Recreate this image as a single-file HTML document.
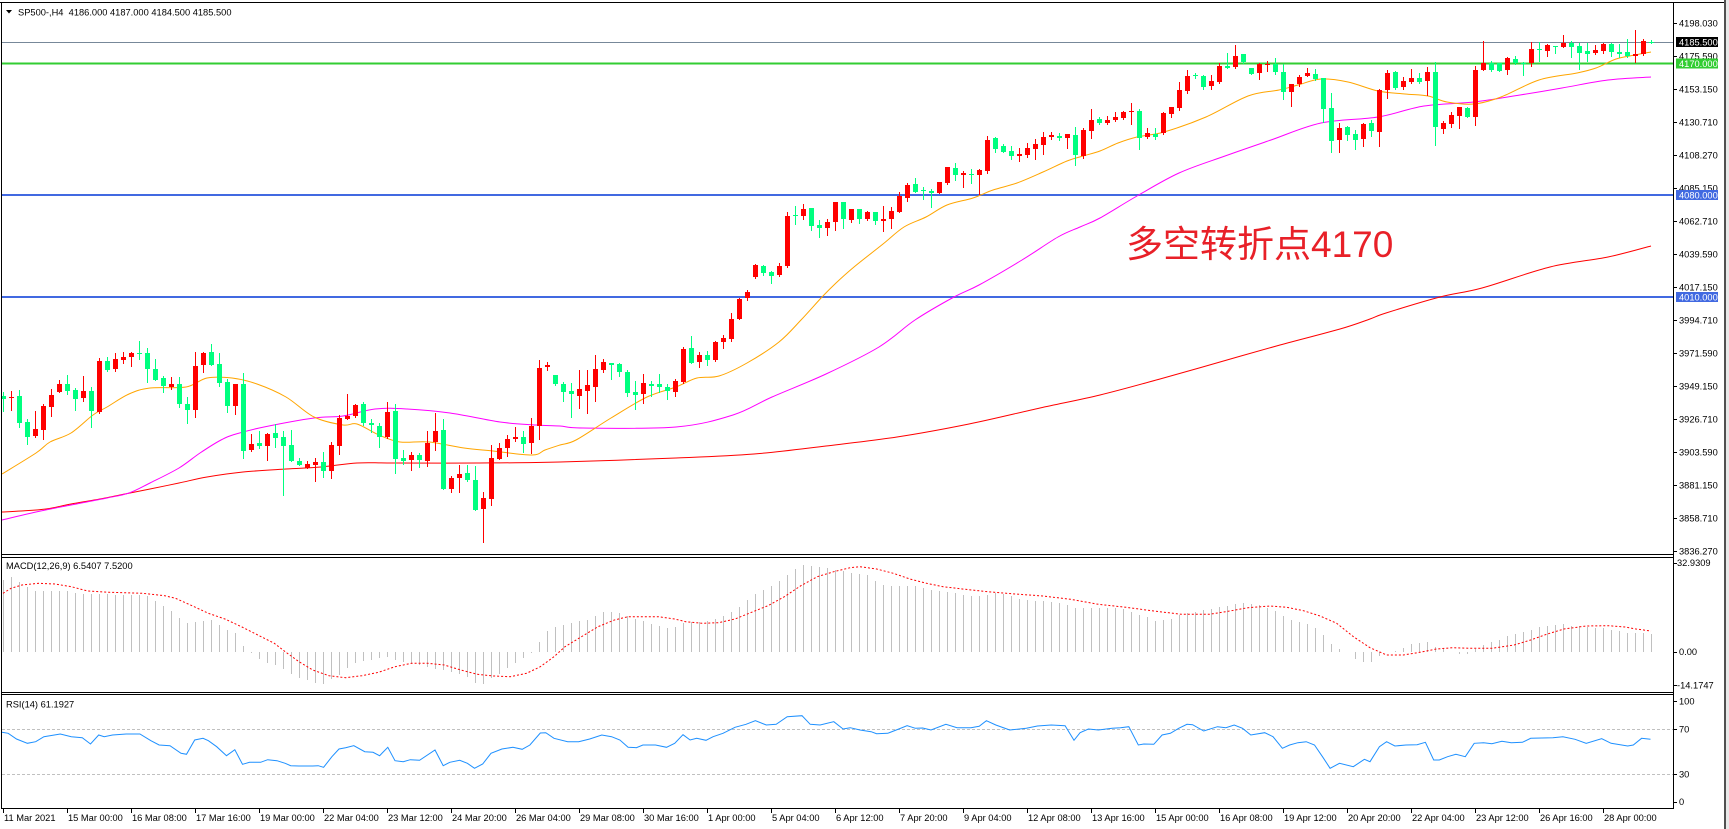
<!DOCTYPE html>
<html><head><meta charset="utf-8">
<style>
html,body{margin:0;padding:0;background:#fff;}
body{width:1729px;height:829px;overflow:hidden;position:relative;}
svg{position:absolute;left:0;top:0;font-family:"Liberation Sans","Noto Sans CJK SC",sans-serif;}
.t{font-size:9.3px;fill:#000;}
.w{font-size:9.3px;fill:#fff;}
</style></head><body>
<svg id="s" width="1729" height="829" viewBox="0 0 1729 829" xmlns="http://www.w3.org/2000/svg">
<rect x="0" y="0" width="1729" height="829" fill="#fff"/>
<g id="lines"></g>
<g id="g"></g>
<g shape-rendering="crispEdges" fill="#000">
<rect x="0" y="2" width="1725" height="1"/>
<rect x="1" y="2" width="1" height="807"/>
<rect x="1673" y="2" width="1" height="807"/>
<rect x="1" y="554" width="1672" height="1"/>
<rect x="1" y="557" width="1672" height="1"/>
<rect x="1" y="692" width="1672" height="1"/>
<rect x="1" y="694" width="1672" height="1"/>
<rect x="1" y="808" width="1673" height="1"/>
<rect x="1724" y="0" width="2" height="829" fill="#505050"/>
<rect x="1726" y="0" width="3" height="829" fill="#e8e8e8"/>
</g>
<g id="ticks" shape-rendering="crispEdges" fill="#000"></g>
<polygon points="6,10 12,10 9,13.5" fill="#000"/>
<text class="t" x="18" y="15.5">SP500-,H4&#160;&#160;4186.000 4187.000 4184.500 4185.500</text>
<text class="t" x="6" y="569">MACD(12,26,9) 6.5407 7.5200</text>
<text class="t" x="6" y="707.5">RSI(14) 61.1927</text>
<g class="t">
<text x="1679" y="26.7">4198.030</text>
<text x="1679" y="59.7">4175.590</text>
<text x="1679" y="92.7">4153.150</text>
<text x="1679" y="125.7">4130.710</text>
<text x="1679" y="158.7">4108.270</text>
<text x="1679" y="191.7">4085.150</text>
<text x="1679" y="224.7">4062.710</text>
<text x="1679" y="257.7">4039.590</text>
<text x="1679" y="290.7">4017.150</text>
<text x="1679" y="323.7">3994.710</text>
<text x="1679" y="356.7">3971.590</text>
<text x="1679" y="389.7">3949.150</text>
<text x="1679" y="422.7">3926.710</text>
<text x="1679" y="455.7">3903.590</text>
<text x="1679" y="488.7">3881.150</text>
<text x="1679" y="521.7">3858.710</text>
<text x="1679" y="554.7">3836.270</text>
<text x="1677" y="566">32.9309</text>
<text x="1679" y="655">0.00</text>
<text x="1677" y="688.3">-14.1747</text>
<text x="1679" y="704.3">100</text>
<text x="1679" y="732.7">70</text>
<text x="1679" y="777.7">30</text>
<text x="1679" y="805">0</text>
</g>
<g shape-rendering="crispEdges">
<rect x="1676" y="37" width="42" height="10" fill="#000"/>
<rect x="1676" y="58.5" width="42" height="10" fill="#32cd32"/>
<rect x="1676" y="190" width="42" height="10" fill="#4169e1"/>
<rect x="1676" y="292" width="42" height="10" fill="#4169e1"/>
</g>
<text class="w" x="1679" y="45.7">4185.500</text>
<text class="w" x="1679" y="67">4170.000</text>
<text class="w" x="1679" y="198.5">4080.000</text>
<text class="w" x="1679" y="300.5">4010.000</text>
<g class="t">
<text x="4" y="821">11 Mar 2021</text>
<text x="68" y="821">15 Mar 00:00</text>
<text x="132" y="821">16 Mar 08:00</text>
<text x="196" y="821">17 Mar 16:00</text>
<text x="260" y="821">19 Mar 00:00</text>
<text x="324" y="821">22 Mar 04:00</text>
<text x="388" y="821">23 Mar 12:00</text>
<text x="452" y="821">24 Mar 20:00</text>
<text x="516" y="821">26 Mar 04:00</text>
<text x="580" y="821">29 Mar 08:00</text>
<text x="644" y="821">30 Mar 16:00</text>
<text x="708" y="821">1 Apr 00:00</text>
<text x="772" y="821">5 Apr 04:00</text>
<text x="836" y="821">6 Apr 12:00</text>
<text x="900" y="821">7 Apr 20:00</text>
<text x="964" y="821">9 Apr 04:00</text>
<text x="1028" y="821">12 Apr 08:00</text>
<text x="1092" y="821">13 Apr 16:00</text>
<text x="1156" y="821">15 Apr 00:00</text>
<text x="1220" y="821">16 Apr 08:00</text>
<text x="1284" y="821">19 Apr 12:00</text>
<text x="1348" y="821">20 Apr 20:00</text>
<text x="1412" y="821">22 Apr 04:00</text>
<text x="1476" y="821">23 Apr 12:00</text>
<text x="1540" y="821">26 Apr 16:00</text>
<text x="1604" y="821">28 Apr 00:00</text>
</g>
<text x="1126" y="257" font-size="37" fill="rgb(232,32,40)" font-family="'Liberation Sans','Noto Sans CJK SC',sans-serif">多空转折点4170</text>
</svg>
<script>
(function(){
var NS="http://www.w3.org/2000/svg";
var g=document.getElementById('g'), L=document.getElementById('lines'), T=document.getElementById('ticks');
function el(p,tag,a){var e=document.createElementNS(NS,tag);for(var k in a)e.setAttribute(k,a[k]);p.appendChild(e);return e;}
function interp(P,x){if(x<=P[0][0])return P[0][1];for(var k=1;k<P.length;k++){if(x<=P[k][0]){var a=P[k-1],b=P[k];return a[1]+(b[1]-a[1])*(x-a[0])/(b[0]-a[0]);}}return P[P.length-1][1];}
function poly(p,P,c,ex){var a={points:P.map(function(q){return q[0]+','+q[1];}).join(' '),fill:'none',stroke:c,'stroke-width':1};if(ex)for(var k in ex)a[k]=ex[k];el(p,'polyline',a);}
function smooth(p,P,c){
  var d='M'+P[0][0]+','+P[0][1];
  for(var i=0;i<P.length-1;i++){
    var p0=P[Math.max(0,i-1)],p1=P[i],p2=P[i+1],p3=P[Math.min(P.length-1,i+2)];
    var c1x=p1[0]+(p2[0]-p0[0])/6,c1y=p1[1]+(p2[1]-p0[1])/6;
    var c2x=p2[0]-(p3[0]-p1[0])/6,c2y=p2[1]-(p3[1]-p1[1])/6;
    d+=' C'+c1x.toFixed(2)+','+c1y.toFixed(2)+' '+c2x.toFixed(2)+','+c2y.toFixed(2)+' '+p2[0]+','+p2[1];
  }
  el(p,'path',{d:d,fill:'none',stroke:c,'stroke-width':1});
}
el(L,'rect',{x:2,y:42,width:1671,height:1,fill:'#778899','shape-rendering':'crispEdges'});
el(L,'rect',{x:2,y:62.5,width:1671,height:2,fill:'#32cd32','shape-rendering':'crispEdges'});
el(L,'rect',{x:2,y:194,width:1671,height:2,fill:'#4169e1','shape-rendering':'crispEdges'});
el(L,'rect',{x:2,y:296,width:1671,height:2,fill:'#4169e1','shape-rendering':'crispEdges'});
el(L,'line',{x1:2,y1:729.5,x2:1673,y2:729.5,stroke:'#c0c0c0','stroke-dasharray':'3 2','stroke-width':1});
el(L,'line',{x1:2,y1:774.5,x2:1673,y2:774.5,stroke:'#c0c0c0','stroke-dasharray':'3 2','stroke-width':1});
for(var k=0;k<17;k++){el(T,'rect',{x:1673,y:23+33*k,width:4,height:1});}
[563,651.7,685,701,729.3,774.3,802].forEach(function(y){el(T,'rect',{x:1673,y:Math.round(y),width:4,height:1});});
for(var k=0;k<26;k++){el(T,'rect',{x:3+64*k,y:808,width:1,height:5});}

var O=[[2,474],[36,453],[50,442],[71,433],[93,415],[107,407],[129,394],[150,388],[186,387],[207,378],[232,378],[257,384],[286,397],[314,417],[343,425],[357,424],[379,435],[400,442],[429,442],[464,448],[493,451],[532,455],[545,450],[560,445],[576,440],[611,418],[647,397],[676,387],[697,378],[719,376],[747,363],[779,342],[801,320],[822,297],[836,283],[854,267],[883,244],[904,227],[926,217],[947,205],[973,198],[993,190],[1017,183],[1043,172],[1067,161],[1083,156],[1100,151],[1118,143],[1137,137],[1164,132],[1206,117],[1248,96],[1279,90],[1298,85],[1321,79],[1348,82],[1378,91],[1405,94],[1428,96],[1447,102],[1474,104],[1501,97],[1539,80],[1577,73],[1596,68],[1616,59],[1635,55],[1651,52]];
var M=[[2,520],[36,512],[71,505],[107,498],[129,493],[150,483],[179,468],[200,453],[221,440],[236,434],[264,427],[314,418],[343,416],[375,409],[407,409],[450,413],[500,422],[536,425],[560,426],[583,428],[676,427],[733,415],[772,397],[826,374],[879,347],[915,320],[954,297],[979,285],[1022,260],[1058,237],[1080,227],[1100,218],[1137,196],[1179,173],[1225,156],[1271,140],[1321,123],[1378,117],[1424,106],[1474,102],[1520,95],[1562,88],[1608,80],[1651,77]];
var R=[[2,512],[21,511],[46,509],[71,504],[100,499],[125,494],[150,489],[179,483],[207,477],[243,472],[286,469],[321,467],[357,463],[393,463],[479,463],[560,462],[676,458],[754,454],[826,446],[897,437],[969,424],[1040,408],[1100,395],[1160,379],[1220,362],[1280,345],[1340,329],[1370,319],[1386,313],[1440,297],[1482,288],[1550,267],[1608,257],[1651,246]];
smooth(g,R,'#ff0000');
smooth(g,M,'#ff00ff');
smooth(g,O,'#ffa500');

var C=[[0,396,398.7,391.7,410.7],[1,396.7,398,391,410],[0,396,422.7,390,427.3],[0,422,436.7,419.3,444],[1,429,436,410.7,437.3],[1,406,430,404,438.7],[1,395,406.7,389,416],[1,384.3,391.7,380,391.7],[0,384,391,375,394],[0,390,399,388.3,410],
[1,391,398,376,400.7],[0,391,410.7,386.7,426.7],[1,361,412,357.7,413.3],[0,361,370,357.3,371],[1,359.3,369,353,370.7],[1,357,360,351.7,362.7],[1,353,356.7,351.7,365.7],[0,352.7,353.7,341,359],[0,353,368.7,348.3,382],[0,369,380,359,380],
[0,378,386,375.7,391.7],[1,384,386.7,377.3,389],[0,384,403.7,377.3,407.3],[0,403.7,410,396.7,422.7],[1,365.7,410,351.7,416.7],[1,353,365,351.7,371.7],[0,352,365,344,365],[0,364,382.7,352.7,386],[0,381.7,406,379,412],[1,384,405.7,384,414],
[0,384,450.7,373.3,457.7],[1,444,450,434,451],[0,443,445.7,431,447.7],[1,434,445.7,433.3,459.7],[0,433.3,437.7,424.3,446.7],[0,437,445.7,431,495],[0,445,460.7,430,460.7],[0,461,464.7,457.7,464.7],[1,464.3,468.3,461.3,468.3],[1,462.3,464.7,458,480.7],
[0,462.3,470.7,452.3,476.7],[1,445,470.7,442,477.7],[1,418,445.7,415,453.7],[1,415.7,418.7,394,418.7],[1,405,416,404,416.7],[0,404,423,402,425],[0,423,425.3,419,432.3],[0,426,436.7,423.3,446.7],[1,412,436.7,402,437.7],[0,411,458.7,404,472.7],
[0,457.7,460.7,450,464.3],[1,455,460,451.7,470],[0,455,460,452.7,466.7],[1,442.7,460.7,431,465.7],[1,431,442,412.7,450],[0,430,489,419,489],[1,478,489,476,491.7],[1,474,478.3,465,491.7],[0,473.3,480,465.3,480.7],[0,480.3,510,466,510],
[1,498.3,509,492,541.7],[1,458,499,445.3,505],[1,448,458.7,442.7,458.7],[1,439,448,435.3,456],[1,437,438.7,427.3,440.7],[0,437,443.7,431,452.3],[1,426,443,418,452.7],[1,368.3,425.7,360.3,439],[1,365,366.7,362.3,370],[0,375,384,375,385],
[0,384,391.7,382.3,400.7],[0,391,394.3,383.3,416.7],[1,389,395.7,370,407.7],[1,385,390.7,370,412.7],[1,369,386.7,355,400.7],[1,362.3,370,359,371.7],[0,363.3,364.7,363.3,379],[0,364,371.7,363.3,376],[0,372,392.7,370,395.7],[0,392.3,395,381,409],
[1,383.3,394.3,374,403.3],[0,384,385.7,381,395.7],[0,384.3,387.3,374,391.7],[0,387.3,390.7,384,398.7],[1,380.7,391.7,379.3,395.7],[1,349,382.3,346.7,383.3],[0,348.3,363.3,336,363.3],[1,355.3,362.3,352,366.7],[0,355.3,360,351.3,365],[1,342.3,360,341,361.3],
[1,338.3,342,335,347.7],[1,319.3,339.3,313,341],[1,299.3,319.3,298.3,319.3],[1,292.3,298.3,290,300],[1,265,276.7,264,277.7],[0,266,272.7,265.3,275],[0,272,275.7,270.7,282.7],[1,266,275,263.3,275.7],[1,216,265.7,212,267.3],[0,214.5,215.5,206,224],
[1,209,216,204,218.7],[0,208,225.7,208,230],[0,225.3,227.7,220,236.7],[1,221.7,227.7,219.3,235],[1,202,221.7,202,230],[0,202,219,202,227.7],[1,209.3,220,209.3,221.7],[0,209.3,219,209.3,222.7],[1,211.7,219,210.7,220],[0,212,221,212,224],
[1,219,220.7,206,231],[1,211,219,206.7,227.7],[1,195.7,211.7,191.7,211.7],[1,184.7,197.7,183.3,201],[0,184,191.7,178,191.7],[0,189.5,190.5,187,198.7],[0,191.3,192.7,189,206.7],[1,182,192.7,182,193.3],[1,167,182.7,167,184.3],[0,168,175,163,180],
[1,173,175,171,187],[0,173.5,174.5,169,183],[1,170,175,169,194],[1,140,171,136,173],[0,138,149,137,152],[0,146,152,144,152],[0,151,156,146,159],[1,154,156,148,161],[1,148,155,143,157],[1,144,149,139,159],
[1,137,145,132,154],[1,135,137,132,139],[0,136,138,133,140],[1,134,138,134,148],[0,135,155,127,165],[1,129.5,156,128.3,158],[1,120,131,109,137.7],[0,119.3,123.3,117.3,124],[1,120,123.3,116,124],[1,117.3,120,112.3,120.7],
[1,111.7,118.3,110.7,119.3],[1,110.7,112.3,103.3,124],[0,110.7,138.3,109.3,148.7],[1,133.3,137.3,128.3,138.3],[0,134,136.7,127.7,139],[1,113.3,133.3,112.3,134.3],[1,107.3,114,106.7,116.7],[1,90,108.3,81.7,110],[1,76,91,70,92.7],[0,74.5,75.5,72.7,78.3],
[0,76,87.3,75,89.3],[1,80.7,86,75,89],[1,66,81.7,63.3,82.7],[0,66,67.7,53.3,67.7],[1,56,66.7,45,67.7],[0,54.3,62.3,54.3,63.3],[0,67.7,73.7,67.7,74.3],[1,64.3,73.3,62.7,78.7],[1,64.3,65.3,61,70.7],[0,64.3,72.3,58.3,74.3],
[0,72.3,91.7,64.3,99.3],[1,84,91.7,84,106],[1,76.7,84.3,75,85.7],[1,72.7,76,68.3,76],[0,74,79,69.3,80],[0,78.3,109,78.3,121.7],[0,108.3,140.7,92.7,151.7],[1,127.7,140,123.3,151.7],[0,127.3,135,126,140],[0,134,140,130,149],
[1,124,139,123.3,146],[0,123.3,131,120,136],[1,90,131.7,89.3,146],[1,72.7,90,70,98.3],[0,71.7,88.3,71,89],[1,81,86.7,76.7,89.3],[1,78.3,81.7,69.3,83.3],[0,78.3,81.7,72.7,82.7],[1,72,81,66.7,95],[0,71.7,126.7,62,145],
[1,122.7,128.7,120.7,132.7],[1,115,124,112.3,126.7],[1,107.3,116,107.3,128.3],[0,107.7,116.7,107.3,117.3],[1,70,116.7,66,125],[1,63.3,70,41,70],[0,63.3,70,61,70.7],[0,63.3,70.7,63.3,70.7],[1,58,70,56.7,74],[0,59,63.3,56,64],
[0,62.8,63.8,62,75],[1,49,62.7,42.3,66],[0,48.5,49.5,42.3,60.7],[1,45,50.7,44,56],[0,46,47.3,46,52.7],[1,42.7,47.3,35,47.3],[0,42.7,46.7,40.7,56.7],[0,46,52.7,42.7,69.3],[0,51,54.3,43.3,60.7],[1,50,53.3,45,54],
[1,44.3,50.7,43.3,52.7],[0,44,51.7,43.3,56],[0,51.7,54.3,44,56.7],[0,52.3,56,39.3,57.3],[1,54,56,30,61.7],[1,41,54.3,39.3,55],[0,41.5,42.5,40,42.7]];
var cg=el(g,'g',{'shape-rendering':'crispEdges'});
C.forEach(function(c,i){
  var X=3+8*i, col=c[0]?'#ff0000':'#00ff7f';
  var wt=Math.round(c[3]), wb=Math.round(c[4]);
  el(cg,'rect',{x:X,y:wt,width:1,height:Math.max(1,wb-wt+1),fill:col});
  var bt=Math.round(c[1]), bb=Math.round(c[2]);
  el(cg,'rect',{x:X-2,y:bt,width:5,height:Math.max(1,bb-bt),fill:col});
});

var H=[[3,580],[10,576.7],[18,581.7],[26,586.7],[34,591],[66,591],[82,594],[145,595],[154,600],[162,605],[170,610],[178,616.7],[186,623.3],[203,620.7],[211,620],[218,624],[226,630],[234,631.7],[242,645],[250,651.7],[258,658.3],[266,662.3],[274,665],[282,668.3],[290,673.3],[298,677.7],[306,680],[314,682.7],[322,684.3],[330,680],[338,675.7],[346,669],[354,663.3],[370,660],[387,656.7],[394,660],[410,663.3],[426,666.7],[442,670],[466,675.7],[474,683.3],[482,684.3],[490,678.3],[498,675],[506,668.3],[514,663.3],[522,659],[530,654.3],[538,643.3],[546,631.7],[554,627.7],[570,623.3],[586,620],[594,616.7],[602,612.3],[618,612.3],[634,618.3],[650,623.3],[666,627.7],[674,627.7],[682,623.3],[706,621],[722,616.7],[738,608.3],[754,594.3],[770,586.7],[786,575.7],[794,570],[802,565],[826,567.7],[842,571],[850,573],[866.7,575],[874,580],[882,584.3],[890,586],[914,586],[930,590],[946,591.7],[970,595.7],[978,596.7],[994,593.3],[1010,595],[1018,599.3],[1050,601.7],[1066,604.3],[1074,608.3],[1122,608.3],[1130,611.7],[1146,616.7],[1154,620.7],[1170,619],[1178,615.7],[1194,611.7],[1218,607.3],[1234,604.3],[1242,603.3],[1258,604.3],[1274,610],[1290,620],[1306,623.3],[1314,626.7],[1322,633.3],[1330,643.3],[1338,649],[1346,651],[1354,659],[1362,661.7],[1370,663.3],[1378,656.7],[1386,652],[1394,651.7],[1402,648],[1410,644.3],[1418,643.3],[1426,641],[1434,646.7],[1442,648.3],[1450,651.7],[1458,653.3],[1466,655],[1474,650],[1482,645.7],[1490,642.3],[1498,640],[1506,636],[1514,634],[1522,632.7],[1530,630],[1538,627.7],[1546,625.7],[1554,625],[1562,624.3],[1570,625.7],[1586,626.7],[1602,628.3],[1618,631],[1626,633.3],[1642,633.3],[1651,634]];
var hg=el(g,'g',{'shape-rendering':'crispEdges',fill:'#c0c0c0'});
var Z=652;
for(var i=0;i<207;i++){var X=3+8*i;var y=Math.round(interp(H,X));if(Math.abs(y-Z)<1)continue;el(hg,'rect',{x:X,y:Math.min(y,Z),width:1,height:Math.abs(y-Z)});}
var S=[[3,593.3],[11,588.3],[22,585],[38.4,583.3],[54.9,584],[71.3,586.7],[87.8,591],[109.7,592.3],[142.6,593.3],[164.6,595.7],[175.5,598.3],[192,605.7],[208.4,613.3],[224.9,619],[241.4,626.7],[257.8,635],[274.3,643.3],[285.2,651.7],[299,661.7],[312.7,670],[329,675.7],[345.6,677.7],[362,675.7],[378.5,672.3],[395,666.7],[411.4,663.3],[427.9,663.3],[444.3,665],[460.8,670],[477.2,674.3],[493.7,676],[510.2,676.7],[526.6,673.3],[540.3,666.7],[554,656.7],[565,646.7],[581.5,636.7],[598,626.7],[614.4,620],[628,616.7],[658.3,616.7],[674.7,619],[685.7,621.7],[702.1,623.3],[718.6,622.7],[735,619],[751.5,612.3],[768,605.7],[784.4,596.7],[800.9,585.7],[817.3,576.7],[833.8,571.7],[850.2,567.7],[860,566.7],[876.6,569],[893.3,573.3],[909.9,579],[926.5,583.3],[943.1,586.7],[965.3,589.3],[987.5,591.7],[1015.2,594],[1042.9,596],[1070.6,599.3],[1098.4,604.3],[1126.1,607.3],[1153.8,611],[1181.5,614.3],[1209.2,614.3],[1225.9,611.7],[1248,607.7],[1270.2,606],[1286.8,607.3],[1303.5,610.7],[1320.1,616],[1336.7,623.3],[1353.4,636.7],[1370,647.7],[1386.6,655],[1403.2,655],[1419.9,652.3],[1436.5,649],[1453.1,647.7],[1469.8,648.3],[1492,648.3],[1514.1,645],[1530.7,640],[1547.4,634],[1564,629],[1586.2,626],[1608.3,625.7],[1625,627],[1636,629],[1651,631]];
poly(g,S,'#ff0000',{'stroke-dasharray':'2 2'});
var RS=[[2,732.3],[8.2,733.3],[16.5,739],[27.4,743.3],[35.7,741.7],[43.9,736.7],[60.3,734],[71.3,736.7],[82.3,737.7],[90.5,744],[98.7,735],[104.2,736.7],[112.5,735],[126.2,734],[139.9,734],[150.9,740.7],[159.1,745],[170,745.7],[181,753.3],[186.5,754.3],[194.7,740],[203,738.3],[208.4,740.7],[216.7,746.7],[226.5,755.7],[234.8,749.7],[242.5,764.3],[249.6,762.3],[260.6,762.3],[267.7,759.7],[277,760.7],[285.2,763.3],[290.7,765.7],[299,766],[312.7,766],[318.2,765.7],[323.6,767.3],[331.9,756.7],[339,749],[345.6,747.7],[353.8,745.7],[364.8,751.7],[373,752.3],[379.6,755.7],[387.8,747.3],[395,760.7],[403.2,761.7],[410.3,759.7],[419.6,760.3],[435,750],[443.2,765.7],[449.8,762.3],[459.7,760.3],[467.4,763.3],[474.5,768.3],[482.7,764],[491,753.3],[501.9,749],[512.9,747.3],[522.2,749.3],[529.9,745],[540.3,733],[545.8,732.7],[554,738.3],[567.7,741.7],[578.7,741.7],[589.7,739],[601.8,735],[611.6,736.7],[619.9,740],[628.1,747.3],[636.3,747.7],[642.9,745],[655.5,745],[666.5,747.3],[674.7,743.3],[683,734.7],[690.1,740],[696.7,738.3],[706,740.3],[713.1,736.7],[723,733.3],[735,727.3],[746,724.3],[755.4,720.7],[766.3,725],[776.2,724.3],[787.2,716.7],[802,715.7],[810.2,724.3],[820.1,725],[833.8,721.7],[843.1,729],[850.2,727.7],[860,730],[871.1,731.7],[876.6,733.7],[887.7,733.3],[898.8,729],[907.1,725.7],[915.4,728.3],[922.6,728],[931,730],[945.9,724.3],[957,727.7],[970.9,727.7],[979.2,726.3],[986.4,720.7],[995.8,725],[1009.7,730],[1026.3,728.3],[1037.4,726],[1051.2,725],[1065.1,725.7],[1074,740.3],[1080.1,732.7],[1088.4,729],[1098.4,730],[1112.2,728.3],[1120.5,727.7],[1128.8,726.7],[1138.3,745],[1143.8,744],[1153.8,744.3],[1162.1,735],[1170.4,733.3],[1178.7,728.3],[1187,724.3],[1192.6,724.7],[1203.7,731],[1217.5,726.7],[1225.9,727.7],[1234.2,725],[1242.5,728.3],[1250.8,735],[1264.7,732.7],[1273,736.7],[1282.4,748.3],[1289.6,745],[1297.9,742.7],[1306.2,741.7],[1314.5,745],[1322.9,757.3],[1330.1,768.3],[1339.5,763.3],[1353.3,766.7],[1364.4,759.3],[1370,761.7],[1379.4,746.7],[1386.6,741.7],[1394.9,746],[1406,745],[1417.1,744.7],[1425.4,742.3],[1433.7,760],[1439.3,760],[1447.6,756.7],[1455.9,754.3],[1465.3,756.7],[1474.2,743.3],[1483.6,742.7],[1491.9,743.7],[1501.9,741.3],[1511.3,742.7],[1522.4,742.3],[1530.7,738.3],[1552.9,737.7],[1562.9,736.7],[1575.1,739.3],[1586.2,743.3],[1601.7,738.7],[1611.1,743.3],[1627.7,746],[1633.3,745],[1641.6,738.3],[1650.5,739.3]];
poly(g,RS,'#1e90ff');
})();
</script>
</body></html>
